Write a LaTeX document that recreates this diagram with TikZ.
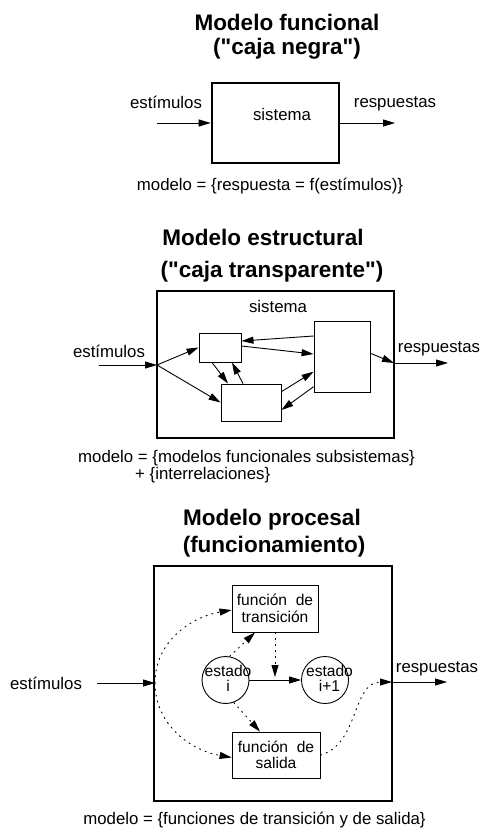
\documentclass[tikz,border=0pt]{standalone}
\usepackage{fontspec}
\defaultfontfeatures[\rmfamily]{}
\setmainfont{Liberation Sans}
\usetikzlibrary{arrows.meta,positioning,calc}

\begin{document}
\begin{tikzpicture}[x=1pt, y=-1pt,
  titulo/.style={font=\fontsize{22.5}{26}\selectfont\bfseries, inner sep=0pt, anchor=base},
  texto/.style={font=\fontsize{16.8}{19}\selectfont, inner sep=0pt, anchor=base},
  marco/.style={rectangle, draw, line width=2.6pt, inner sep=0pt},
  caja/.style={rectangle, draw, line width=0.9pt, inner sep=0pt, align=center,
    font=\fontsize{15.6}{16.5}\selectfont},
  estadoc/.style={circle, draw, line width=0.9pt, minimum size=47pt, inner sep=-8pt,
    align=center, font=\fontsize{15.6}{14.5}\selectfont},
  arr/.style={-{Triangle[length=12pt,width=7pt]}, line width=0.9pt},
  punt/.style={arr, dash pattern=on 1.3pt off 4.7pt, line cap=round}
]
  \useasboundingbox (0,0) rectangle (482,828);

  % modelo funcional
  \node[titulo] (t1a) at (287,30) {Modelo funcional};
  \node[titulo] (t1b) at (287,54) {("caja negra")};
  \node[marco, minimum width=127pt, minimum height=80pt] (sis1) at (275.5,123) {};
  \node[texto] (sis1t) at (282,120) {sistema};
  \node[texto] (est1) at (166,108) {estímulos};
  \node[texto] (res1) at (395,107) {respuestas};
  \coordinate (in1) at (157,123);
  \coordinate (out1) at (395,123);
  \draw[arr] (in1) -- (sis1.west);
  \draw[arr] (sis1.east) -- (out1);
  \node[texto] (mod1) at (270,190) {modelo = \{respuesta = f(estímulos)\}};

  % modelo estructural
  \node[titulo] (t2a) at (263,245) {Modelo estructural};
  \node[titulo] (t2b) at (272,277.5) {("caja transparente")};
  \node[marco, minimum width=237pt, minimum height=147pt] (sis2) at (275.5,364.5) {};
  \node[texto] (sis2t) at (278,312) {sistema};
  \node[caja, minimum width=42pt, minimum height=29pt] (subA) at (220,347.5) {};
  \node[caja, minimum width=60pt, minimum height=37pt] (subB) at (251,402.5) {};
  \node[caja, minimum width=56pt, minimum height=71pt] (subC) at (342,356.5) {};
  \node[texto] (est2) at (109,357) {estímulos};
  \node[texto] (res2) at (439,352) {respuestas};
  \coordinate (ini2) at (99,365);
  \coordinate (e2) at (157,365);
  \coordinate (s2) at (394,363);
  \coordinate (fin2) at (448,363);
  \draw[arr] (ini2) -- (e2);
  \draw[arr] (e2) -- (subA.west);
  \draw[arr] (e2) -- (subB.west);
  \draw[arr] ([yshift=1.5pt]subA.east) -- ([yshift=2.5pt]subC.west);
  \draw[arr] ([yshift=20.5pt]subC.west) -- ([yshift=6.5pt]subA.east);
  \draw[arr] ([xshift=-8pt]subA.south) -- ([xshift=-23pt]subB.north);
  \draw[arr] ([xshift=-8pt]subB.north) -- ([xshift=12pt]subA.south);
  \draw[arr] ([yshift=10.8pt]subB.east) -- ([yshift=-15.2pt]subC.west);
  \draw[arr] ([yshift=-30.2pt]subC.west) -- ([yshift=-7.5pt]subB.east);
  \draw[arr] ([yshift=3.2pt]subC.east) -- (s2);
  \draw[arr] (s2) -- (fin2);
  \node[texto, anchor=base west] (mod2a) at (78,462) {modelo = \{modelos funcionales subsistemas\}};
  \node[texto, anchor=base west] (mod2b) at (135,479) {+ \{interrelaciones\}};

  % modelo procesal
  \node[titulo] (t3a) at (272,525) {Modelo procesal};
  \node[titulo] (t3b) at (274,552) {(funcionamiento)};
  \node[marco, minimum width=238pt, minimum height=235pt] (sis3) at (273,683.5) {};
  \node[caja, minimum width=86pt, minimum height=47pt] (ftr) at (275,608.5) {función\ \ de\\transición};
  \node[caja, minimum width=88pt, minimum height=46pt] (fsa) at (276,755) {función\ \ de\\salida};
  \node[estadoc] (ei) at (225.5,680) {\hspace*{5pt}estado\\\hspace*{5pt}i\rule[-3pt]{0pt}{0pt}};
  \node[estadoc] (ej) at (325,680) {\hspace*{9pt}estado\\\hspace*{9pt}i+1\rule[-3pt]{0pt}{0pt}};
  \node[texto] (est3) at (46,689) {estímulos};
  \node[texto] (res3) at (437,672) {respuestas};
  \coordinate (ini3) at (97,683);
  \coordinate (e3) at (155,683);
  \coordinate (s3) at (392,682);
  \coordinate (fin3) at (447,682);
  \coordinate (cruce) at (275,677);
  \draw[arr] (ini3) -- (e3);
  \draw[arr] (ei) -- (ej);
  \draw[punt] (ftr.south) -- (cruce);
  \draw[punt] (ei.80) -- ([xshift=-20pt]ftr.south);
  \draw[punt] (ei.-70) -- ([xshift=-16pt]fsa.north);
  \draw[punt] (e3) to[out=90, in=190] ([yshift=-1.5pt]ftr.west);
  \draw[punt] (e3) to[out=-90, in=170] ([yshift=-2.5pt]fsa.west);
  \draw[punt] (fsa.east) to[out=15, in=180] (s3);
  \draw[arr] (s3) -- (fin3);
  \node[texto] (mod3) at (254.5,824) {modelo = \{funciones de transición y de salida\}};
\end{tikzpicture}
\end{document}
